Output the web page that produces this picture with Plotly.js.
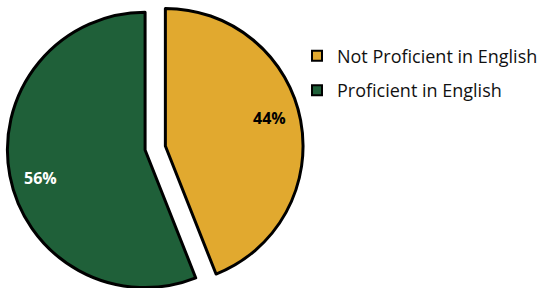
<!DOCTYPE html>
<html>
<head>
<meta charset="utf-8">
<script src="https://cdn.plot.ly/plotly-3.0.1.min.js"></script>
<style>
html, body { margin: 0; padding: 0; overflow: hidden; background: #fff; }
#chart { width: 543px; height: 296px; }
</style>
</head>
<body>
<div id="chart"></div>
<script>
const categories = ["Not Proficient in English", "Proficient in English"];
const shares = [44, 56];
const sliceColors = ["#E1A92F", "#1F6039"];
const labelColors = ["#000000", "#FFFFFF"];

const W = 543, H = 296;
const pull = 0.075;
const domainX = [0, 0.576];

const pieTrace = {
  type: "pie",
  labels: categories,
  values: shares,
  sort: false,
  direction: "clockwise",
  rotation: 0,
  pull: shares.map(() => pull),
  marker: { colors: sliceColors, line: { color: "#000000", width: 3 } },
  textinfo: "none",
  showlegend: false,
  hoverinfo: "none",
  domain: { x: domainX, y: [0, 1] }
};

// percent labels placed along each slice's bisector (derived from the shares)
const total = shares.reduce((a, b) => a + b, 0);
const cx = (domainX[0] + domainX[1]) / 2 * W;
const cy = H / 2;
const r = Math.min((domainX[1] - domainX[0]) * W, H) / 2 / (1 + pull);
let cum = 0;
const annotations = shares.map((v, i) => {
  const mid = (cum + v / 2) / total * 2 * Math.PI;
  cum += v;
  const pcx = cx + pull * r * Math.sin(mid);
  const pcy = cy - pull * r * Math.cos(mid);
  const th = mid - 4 * Math.PI / 180;
  const px = pcx + 0.79 * r * Math.sin(th);
  const py = pcy - 0.79 * r * Math.cos(th);
  return {
    xref: "paper", yref: "paper",
    x: px / W, y: 1 - py / H,
    xanchor: "center", yanchor: "middle",
    showarrow: false,
    text: Math.round(v / total * 100) + "%",
    font: { family: "Open Sans, sans-serif", size: 16, weight: "bold", color: labelColors[i] }
  };
});

const legendTraces = categories.map((c, i) => ({
  type: "scatter",
  x: [null],
  y: [null],
  mode: "markers",
  name: c,
  legendgroup: "g" + i,
  hoverinfo: "none",
  marker: { symbol: "square", size: 10, color: sliceColors[i], line: { color: "#000000", width: 2 } }
}));

const layout = {
  width: W,
  height: H,
  margin: { l: 0, r: 0, t: 0, b: 0 },
  paper_bgcolor: "#ffffff",
  plot_bgcolor: "#ffffff",
  xaxis: { visible: false },
  yaxis: { visible: false },
  showlegend: true,
  annotations: annotations,
  legend: {
    x: 0.551,
    y: 0.873,
    xanchor: "left",
    yanchor: "top",
    traceorder: "grouped",
    tracegroupgap: 8,
    font: { family: "Open Sans, sans-serif", size: 18, color: "#111111" },
    bgcolor: "rgba(0,0,0,0)"
  }
};

Plotly.newPlot("chart", [pieTrace, ...legendTraces], layout, { staticPlot: true, displayModeBar: false });
</script>
</body>
</html>
